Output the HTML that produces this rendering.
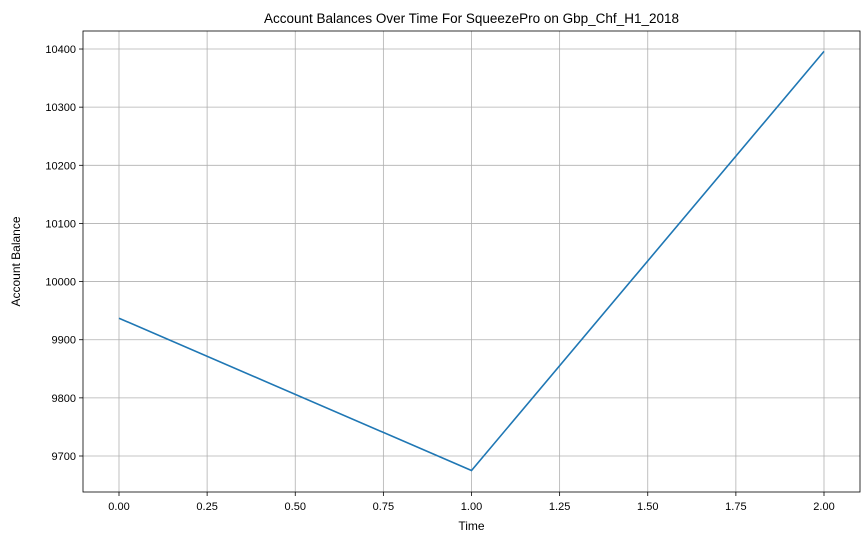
<!DOCTYPE html>
<html><head><meta charset="utf-8"><style>
body{margin:0;background:#fff;}
svg{display:block;font-family:"Liberation Sans","DejaVu Sans",sans-serif;}
</style></head><body>
<svg id="chart" width="868" height="545"></svg>
<script>
const xValues=[0,1,2];
const balances=[9937,9675,10396];
const xTicks=[0,0.25,0.5,0.75,1.0,1.25,1.5,1.75,2.0];
const xTickLabels=["0.00","0.25","0.50","0.75","1.00","1.25","1.50","1.75","2.00"];
const yTicks=[9700,9800,9900,10000,10100,10200,10300,10400];
const yTickLabels=["9700","9800","9900","10000","10100","10200","10300","10400"];
const L=83,R=860,T=31,B=492;
function xs(v){return 119+v*352.5;}
function ys(v){return 456-(v-9700)*0.5814;}
const svg=document.getElementById('chart');
const NS='http://www.w3.org/2000/svg';
function mk(t,a,txt){const e=document.createElementNS(NS,t);for(const k in a)e.setAttribute(k,a[k]);if(txt!=null)e.textContent=txt;svg.appendChild(e);return e;}
xTicks.forEach((t,i)=>{
 const g=mk('line',{x1:xs(t),x2:xs(t),y1:T,y2:B,stroke:'#b0b0b0','stroke-width':0.8});
 
 
 mk('line',{x1:xs(t),x2:xs(t),y1:B,y2:B+4,stroke:'#000','stroke-width':0.8});
 const l=mk('text',{x:xs(t),y:B+18,'text-anchor':'middle','font-size':11},xTickLabels[i]);
 
 
});
yTicks.forEach((t,i)=>{
 const g=mk('line',{x1:L,x2:R,y1:ys(t),y2:ys(t),stroke:'#b0b0b0','stroke-width':0.8});
 
 
 mk('line',{x1:L-4,x2:L,y1:ys(t),y2:ys(t),stroke:'#000','stroke-width':0.8});
 const l=mk('text',{x:L-7,y:ys(t)+4,'text-anchor':'end','font-size':11},yTickLabels[i]);
 
 
});
const pts=xValues.map((x,i)=>xs(x)+','+ys(balances[i])).join(' ');
const line=mk('polyline',{points:pts,fill:'none',stroke:'#1f77b4','stroke-width':1.6});


const fr=mk('rect',{x:L,y:T,width:R-L,height:B-T,fill:'none',stroke:'#000','stroke-width':0.8});


const ti=mk('text',{x:(L+R)/2,y:23,'text-anchor':'middle','font-size':13.5},'Account Balances Over Time For SqueezePro on Gbp_Chf_H1_2018');


const xt=mk('text',{x:(L+R)/2,y:530,'text-anchor':'middle','font-size':12},'Time');


const yt=mk('text',{x:20,y:(T+B)/2,'text-anchor':'middle','font-size':12,transform:'rotate(-90 20 '+((T+B)/2)+')'},'Account Balance');


</script>
</body></html>
